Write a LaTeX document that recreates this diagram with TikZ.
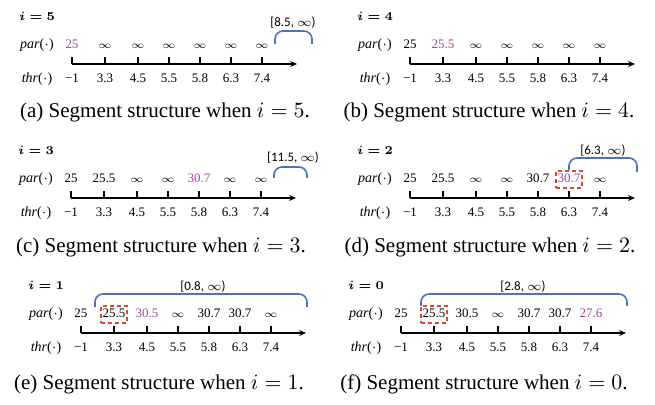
\documentclass[tikz,border=0pt]{standalone}
\usepackage{amsmath}
\usepackage{amssymb}
\usepackage{bm}
\usepackage{fontspec}
\setmainfont{Liberation Serif}
\newfontfamily\calib{Carlito}
\usepackage{tikz}
\usetikzlibrary{arrows.meta, positioning}

\definecolor{newpink}{HTML}{9C4A98}
\definecolor{boxred}{HTML}{E4432D}
\definecolor{braceblue}{HTML}{4A72C0}

\newcommand{\sinf}{$\scriptstyle\infty$}

\tikzset{
  axisline/.style={-{Stealth[length=3.5pt,width=3pt]}, line width=0.9pt},
  tickline/.style={line width=0.9pt},
  rowlbl/.style={font=\fontsize{7}{8}\selectfont, anchor=base, yshift=7.5pt},
  ilbl/.style={font=\fontsize{6.5}{8}\selectfont, anchor=base},
  thrval/.style={font=\fontsize{6.5}{8}\selectfont, anchor=base, yshift=-9.5pt},
  parval/.style={font=\fontsize{6.5}{8}\selectfont, anchor=base, yshift=7.5pt,
    text height=4.6pt, text depth=1pt, inner xsep=0.8pt, inner ysep=1.5pt},
  parnew/.style={parval, text=newpink},
  parbox/.style={parval, draw=boxred, line width=0.8pt, dash pattern=on 2pt off 1.5pt},
  parboxnew/.style={parbox, text=newpink},
  rangebrace/.style={draw=braceblue, line width=0.8pt, rounded corners=4pt},
  rangelbl/.style={font=\calib\fontsize{6.5}{8}\selectfont},
  subcap/.style={font=\fontsize{10.5}{12}\selectfont},
}

% axis with ticks and thr values of one panel
\newcommand{\segaxis}[1]{%
  \coordinate (#1-o) at (0,0);
  \coordinate (#1-e) at (225,0);
  \draw[axisline] (#1-o) -- (#1-e);
  \foreach \x/\t [count=\k] in {0/−1, 33/3.3, 66/4.5, 97/5.5, 128/5.8, 159/6.3, 190/7.4} {
    \coordinate (#1-t\k) at (\x,0);
    \draw[tickline] (#1-t\k) -- ++(0,-7);
    \node[thrval] (#1-h\k) at (#1-t\k) {\t};
  }
  \node[rowlbl] (#1-par) at (-35,0) {\textit{par}($\cdot$)};
  \node[rowlbl, yshift=-17pt] (#1-thr) at (-35,0) {\textit{thr}($\cdot$)};
}

\begin{document}
\begin{tikzpicture}[x=0.5pt, y=-0.5pt]
  \useasboundingbox (0,0) rectangle (655,405);

  % (a)
  \begin{scope}[shift={(72,64)}]
    \segaxis{a}
    \node[ilbl] (a-i) at (-35,-43) {$\bm{i=5}$};
    \foreach \v/\s [count=\k] in {25/parnew, \sinf/parval, \sinf/parval, \sinf/parval,
        \sinf/parval, \sinf/parval, \sinf/parval}
      \node[\s] (a-p\k) at (a-t\k) {\v};
    \coordinate (a-bl) at (203,-20);
    \coordinate (a-br) at (240,-20);
    \draw[rangebrace] (a-bl) -- ++(0,-13) -| (a-br);
    \node[rangelbl] (a-rng) at (221,-41) {[8.5, $\infty$)};
  \end{scope}
  \node[subcap] (a-cap) at (165,112) {(a) Segment structure when $i=5$.};

  % (b)
  \begin{scope}[shift={(410,64)}]
    \segaxis{b}
    \node[ilbl] (b-i) at (-35,-43) {$\bm{i=4}$};
    \foreach \v/\s [count=\k] in {25/parval, 25.5/parnew, \sinf/parval, \sinf/parval,
        \sinf/parval, \sinf/parval, \sinf/parval}
      \node[\s] (b-p\k) at (b-t\k) {\v};
  \end{scope}
  \node[subcap] (b-cap) at (489,112) {(b) Segment structure when $i=4$.};

  % (c)
  \begin{scope}[shift={(71,198)}]
    \segaxis{c}
    \node[ilbl] (c-i) at (-35,-43) {$\bm{i=3}$};
    \foreach \v/\s [count=\k] in {25/parval, 25.5/parval, \sinf/parval, \sinf/parval,
        30.7/parnew, \sinf/parval, \sinf/parval}
      \node[\s] (c-p\k) at (c-t\k) {\v};
    \coordinate (c-bl) at (203,-20);
    \coordinate (c-br) at (236,-20);
    \draw[rangebrace] (c-bl) -- ++(0,-11) -| (c-br);
    \node[rangelbl] (c-rng) at (222,-40) {[11.5, $\infty$)};
  \end{scope}
  \node[subcap] (c-cap) at (161,247) {(c) Segment structure when $i=3$.};

  % (d)
  \begin{scope}[shift={(410,198)}]
    \segaxis{d}
    \node[ilbl] (d-i) at (-35,-43) {$\bm{i=2}$};
    \foreach \v/\s [count=\k] in {25/parval, 25.5/parval, \sinf/parval, \sinf/parval,
        30.7/parval, 30.7/parboxnew, \sinf/parval}
      \node[\s] (d-p\k) at (d-t\k) {\v};
    \coordinate (d-br) at (227,-26);
    \draw[rangebrace] (d-p6.north) -- ++(0,-12) -| (d-br);
    \node[rangelbl] (d-rng) at (193,-47) {[6.3, $\infty$)};
  \end{scope}
  \node[subcap] (d-cap) at (490,247) {(d) Segment structure when $i=2$.};

  % (e)
  \begin{scope}[shift={(81,333)}]
    \segaxis{e}
    \node[ilbl] (e-i) at (-35,-43) {$\bm{i=1}$};
    \foreach \v/\s [count=\k] in {25/parval, 25.5/parbox, 30.5/parnew, \sinf/parval,
        30.7/parval, 30.7/parval, \sinf/parval}
      \node[\s] (e-p\k) at (e-t\k) {\v};
    \coordinate (e-bl) at (14,-26);
    \coordinate (e-br) at (226,-26);
    \draw[rangebrace] (e-bl) -- ++(0,-13) -| (e-br);
    \node[rangelbl] (e-rng) at (122,-46) {[0.8, $\infty$)};
  \end{scope}
  \node[subcap] (e-cap) at (159,384) {(e) Segment structure when $i=1$.};

  % (f)
  \begin{scope}[shift={(401,333)}]
    \segaxis{f}
    \node[ilbl] (f-i) at (-35,-43) {$\bm{i=0}$};
    \foreach \v/\s [count=\k] in {25/parval, 25.5/parbox, 30.5/parval, \sinf/parval,
        30.7/parval, 30.7/parval, 27.6/parnew}
      \node[\s] (f-p\k) at (f-t\k) {\v};
    \coordinate (f-bl) at (20,-27);
    \coordinate (f-br) at (226,-27);
    \draw[rangebrace] (f-bl) -- ++(0,-12) -| (f-br);
    \node[rangelbl] (f-rng) at (122,-46) {[2.8, $\infty$)};
  \end{scope}
  \node[subcap] (f-cap) at (484,384) {(f) Segment structure when $i=0$.};
\end{tikzpicture}
\end{document}
